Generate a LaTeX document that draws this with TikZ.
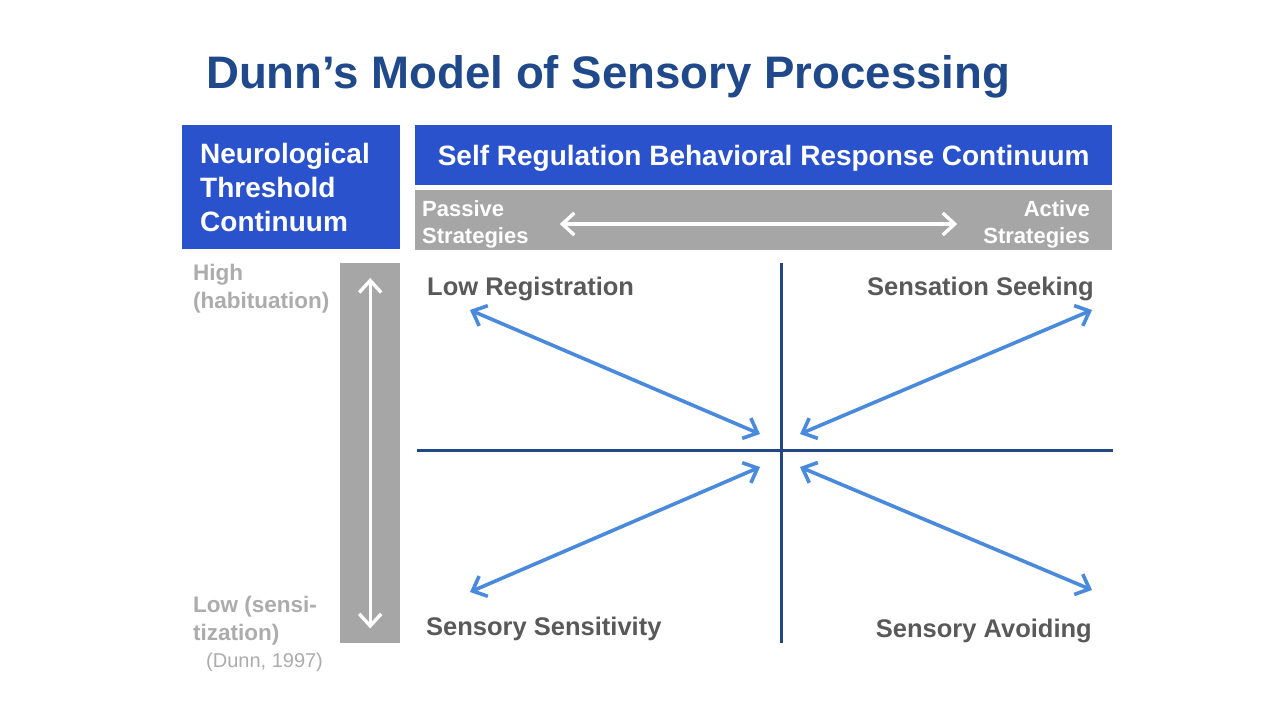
\documentclass[tikz,border=0pt]{standalone}
\usepackage{fontspec}
\setmainfont{Liberation Sans}
\usetikzlibrary{arrows.meta}

\begin{document}
\begin{tikzpicture}[x=1pt, y=-1pt,
    bluebox/.style={fill=boxblue, text=white, inner sep=0pt, font=\fontsize{28}{34}\selectfont\bfseries},
    graybar/.style={fill=bargray, inner sep=0pt},
    stratlbl/.style={text=white, inner sep=0pt, font=\fontsize{22}{27}\selectfont\bfseries},
    levellbl/.style={text=lvlgray, inner sep=0pt, align=left, font=\fontsize{22.5}{28}\selectfont\bfseries},
    quadlbl/.style={text=lblgray, inner sep=0pt, font=\fontsize{25.5}{30}\selectfont\bfseries},
    axisline/.style={draw=axisblue, line width=3pt},
    wharrow/.style={draw=white, line width=3.4pt, {Straight Barb[length=12pt,width=22pt]}-{Straight Barb[length=12pt,width=22pt]}},
    quadarrow/.style={draw=arrowblue, line width=3.6pt, {Straight Barb[length=12pt,width=22pt]}-{Straight Barb[length=12pt,width=22pt]}}]
          \definecolor{titleblue}{RGB}{31,73,138}
          \definecolor{boxblue}{RGB}{41,82,204}
          \definecolor{bargray}{RGB}{166,166,166}
          \definecolor{lblgray}{RGB}{89,89,89}
          \definecolor{lvlgray}{RGB}{172,172,172}
          \definecolor{axisblue}{RGB}{35,70,135}
          \definecolor{arrowblue}{RGB}{74,138,220}
          \fill[white] (0, 0) rectangle (1280, 720);
          \useasboundingbox (0, 0) rectangle (1280, 720);
          % title
          \node[anchor=base west, inner sep=0pt, text=titleblue, font=\fontsize{45.6}{50}\selectfont\bfseries] (title) at (206, 88) {Dunn’s Model of Sensory Processing};
          % header boxes
          \node[bluebox, anchor=north west, minimum width=218pt, minimum height=124pt, text width=182pt, inner xsep=18pt, align=left] (neuro) at (182, 125) {Neurological\\Threshold\\Continuum};
          \node[bluebox, anchor=north west, minimum width=697pt, minimum height=60pt, text height=20pt, text depth=0pt] (selfreg) at (415, 125) {Self Regulation Behavioral Response Continuum};
          \node[graybar, anchor=north west, minimum width=697pt, minimum height=60pt] (strat) at (415, 190) {};
          \node[stratlbl, anchor=west, align=left] (passive) at (422, 224) {Passive\\Strategies};
          \node[stratlbl, anchor=east, align=right] (active) at (1090, 224) {Active\\Strategies};
          \draw[wharrow, shorten <=31pt, shorten >=26pt] (passive.east) -- (active.west);
          % threshold bar
          \node[graybar, anchor=north west, minimum width=60pt, minimum height=380pt] (thresh) at (340, 263) {};
          \draw[wharrow] ([yshift=-15pt]thresh.north) -- ([yshift=15pt]thresh.south);
          \node[levellbl, anchor=north west] (high) at (193, 264) {High\\(habituation)};
          \node[levellbl, anchor=north west] (low) at (193, 596) {Low (sensi-\\tization)};
          \node[anchor=base west, inner sep=0pt, text=lvlgray, font=\fontsize{20}{24}\selectfont] (cite) at (206, 667) {(Dunn, 1997)};
          % axes
          \coordinate (hleft) at (417, 450);
          \coordinate (hright) at (1113, 450);
          \coordinate (vtop) at (781, 263);
          \coordinate (vbot) at (781, 643);
          \draw[axisline] (hleft) -- (hright);
          \draw[axisline] (vtop) -- (vbot);
          % quadrants
          \node[quadlbl, anchor=base west] (lowreg) at (427, 295) {Low Registration};
          \node[quadlbl, anchor=base east] (seek) at (1094, 295) {Sensation Seeking};
          \node[quadlbl, anchor=base west] (sensit) at (426, 635) {Sensory Sensitivity};
          \node[quadlbl, anchor=base east] (avoid) at (1092, 637) {Sensory Avoiding};
          \coordinate (lrout) at (470, 310);
          \coordinate (lrin) at (760, 434);
          \coordinate (ssout) at (1092, 310);
          \coordinate (ssin) at (800, 434);
          \coordinate (stout) at (470, 592);
          \coordinate (stin) at (760, 467);
          \coordinate (avout) at (1092, 590);
          \coordinate (avin) at (800, 467);
          \draw[quadarrow] (lrout) -- (lrin);
          \draw[quadarrow] (ssout) -- (ssin);
          \draw[quadarrow] (stout) -- (stin);
          \draw[quadarrow] (avout) -- (avin);
    \end{tikzpicture}
\end{document}
